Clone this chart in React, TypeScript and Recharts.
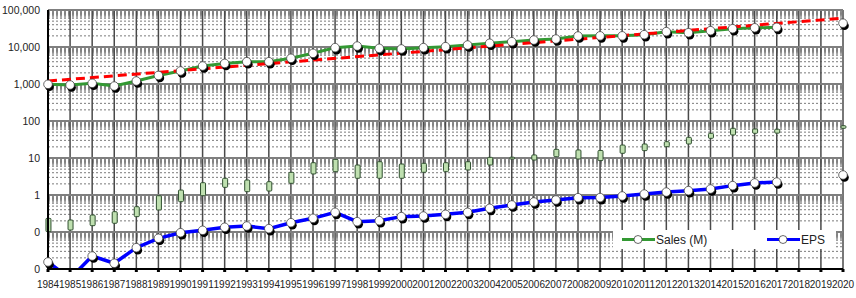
import {
  ComposedChart,
  Line,
  Bar,
  XAxis,
  YAxis,
  CartesianGrid,
  Legend,
} from 'recharts';

const years = [
  1984, 1985, 1986, 1987, 1988, 1989, 1990, 1991, 1992, 1993, 1994, 1995, 1996,
  1997, 1998, 1999, 2000, 2001, 2002, 2003, 2004, 2005, 2006, 2007, 2008, 2009,
  2010, 2011, 2012, 2013, 2014, 2015, 2016, 2017, 2018, 2019, 2020,
];

// Sales (M), 1984-2017
const sales = [
  980, 940, 1045, 880, 1205, 1700, 2250, 3060, 3600, 4000, 4000, 4950, 6750,
  9600, 10600, 9200, 8850, 9600, 10200, 11300, 12600, 13900, 15400, 16400,
  19800, 20000, 20000, 21500, 26000, 24300, 27600, 31200, 33000, 34000,
];

// EPS, 1984-2017
const eps = [
  0.0155, 0.0055, 0.0224, 0.0143, 0.0377, 0.0676, 0.0957, 0.111, 0.134, 0.145,
  0.123, 0.178, 0.234, 0.34, 0.19, 0.202, 0.26, 0.27, 0.3, 0.34, 0.436, 0.537,
  0.647, 0.733, 0.845, 0.85, 0.94, 1.06, 1.2, 1.31, 1.45, 1.79, 2.11, 2.24,
];

// yearly price range, 1984-2020 (no bars for 2018, 2019)
const priceLow = [
  0.102, 0.113, 0.148, 0.172, 0.26, 0.393, 0.66, 0.957, 1.61, 1.23, 1.28, 2.07,
  3.7, 4.27, 2.83, 2.83, 2.83, 4.11, 4.27, 4.74, 6.47, 9.4, 8.8, 10.8, 9.4, 8.5,
  13.4, 15.8, 20.2, 23.9, 34, 41.9, 46.5, 47, null, null, 63.5,
];
const priceHigh = [
  0.234, 0.211, 0.288, 0.354, 0.483, 0.957, 1.36, 2.15, 2.83, 2.54, 2.29, 4.11,
  7.46, 9.2, 6.47, 7.94, 6.88, 7.19, 7.46, 7.94, 10.4, 10.5, 12.1, 17.2, 16.5,
  16, 22.4, 23.9, 27.6, 36.2, 46.5, 63.5, 60.8, 60, null, null, 74.6,
];

// trend line end points
const trendYears = [1984, 2020];
const trendValues = [1200, 60000];

// 2020 estimates
const estimateYear = 2020;
const salesEstimate = 44000;
const epsEstimate = 3.47;

const yTicks = [0.01, 0.1, 1, 10, 100, 1000, 10000, 100000];
// log minor gridlines: sparse 2-5, packed 6-9.5 (reads as a grey band under each decade)
const minorSteps = [2, 3, 4, 5, 6, 6.5, 7, 7.5, 8, 8.5, 9, 9.5];

const minorValues: number[] = [];
yTicks.slice(0, -1).forEach((d) => minorSteps.forEach((m) => minorValues.push(d * m)));

const data = years.map((year, i) => {
  const t = trendYears.indexOf(year);
  return {
    year,
    sales: sales[i] ?? null,
    eps: eps[i] ?? null,
    price: priceLow[i] != null ? [priceLow[i], priceHigh[i]] : null,
    trend: t >= 0 ? trendValues[t] : null,
    salesEst: year === estimateYear ? salesEstimate : null,
    epsEst: year === estimateYear ? epsEstimate : null,
  };
});

const font = '"Liberation Sans", Arial, sans-serif';

const ShadowDot = (props: any) => {
  const { cx, cy, index } = props;
  if (cx == null || cy == null || !isFinite(cy)) return null;
  return (
    <g key={`d-${index}`}>
      <circle cx={cx + 1.5} cy={cy + 2.5} r={4.3} fill="#000" />
      <circle cx={cx} cy={cy} r={4.3} fill="#fff" stroke="#444" strokeWidth={0.8} />
    </g>
  );
};

const LegendBox = () => (
  <div style={{ width: '100%', height: '100%', background: '#fff', position: 'relative', fontFamily: font, fontSize: 12, color: '#222' }}>
    <svg width={223} height={19} style={{ position: 'absolute', left: 0, top: 0 }}>
      <line x1={9} x2={42} y1={9.5} y2={9.5} stroke="#339933" strokeWidth={3} />
      <circle cx={25} cy={9.5} r={4} fill="#fff" stroke="#444" strokeWidth={0.8} />
      <text x={43} y={14} fontSize={12} fontFamily={font} fill="#222">Sales (M)</text>
      <line x1={154} x2={187} y1={9.5} y2={9.5} stroke="#0000ff" strokeWidth={3} />
      <circle cx={170} cy={9.5} r={4} fill="#fff" stroke="#444" strokeWidth={0.8} />
      <text x={188} y={14} fontSize={12} fontFamily={font} fill="#222">EPS</text>
    </svg>
  </div>
);

export default function App() {
  return (
    <div style={{ position: 'absolute', left: 0, top: 0, background: '#fff' }}>
      <ComposedChart
        width={856}
        height={298}
        data={data}
        margin={{ top: 10, right: 13, left: 0, bottom: 0 }}
      >
        <CartesianGrid
          horizontalValues={minorValues}
          vertical={false}
          stroke="#7a7a7a"
          strokeDasharray="2 2"
          strokeWidth={1}
        />
        <CartesianGrid horizontal={false} stroke="#4a4a4a" strokeWidth={1.5} />
        <CartesianGrid vertical={false} stroke="#7f7f7f" strokeWidth={2} />
        <XAxis
          dataKey="year"
          type="number"
          domain={[1984, 2020]}
          ticks={years}
          interval={0}
          height={29}
          tickSize={3}
          tickMargin={9}
          axisLine={{ stroke: '#000', strokeWidth: 2 }}
          tickLine={{ stroke: '#000', strokeWidth: 3 }}
          tick={{ fill: '#222', fontSize: 10, fontFamily: font }}
        />
        <YAxis
          scale="log"
          type="number"
          domain={[0.01, 100000]}
          allowDataOverflow
          ticks={yTicks}
          interval={0}
          width={48}
          tickSize={0}
          tickMargin={8}
          tickLine={false}
          axisLine={{ stroke: '#000', strokeWidth: 2 }}
          tick={{ fill: '#222', fontSize: 10.5, fontFamily: font }}
          tickFormatter={(v: number) => (v < 1 ? '0' : v.toLocaleString('en-US'))}
        />
        <Legend
          layout="vertical"
          align="center"
          verticalAlign="middle"
          wrapperStyle={{ position: 'absolute', left: 613, top: 230, width: 223, height: 19 }}
          content={() => <LegendBox />}
        />
        <Bar
          dataKey="price"
          barSize={5}
          fill="#bfe0b0"
          stroke="#2f4f2f"
          strokeWidth={1}
          radius={1}
          isAnimationActive={false}
          legendType="none"
        />
        <Line
          dataKey="sales"
          name="Sales (M)"
          stroke="#339933"
          strokeWidth={3}
          dot={<ShadowDot />}
          isAnimationActive={false}
        />
        <Line
          dataKey="eps"
          name="EPS"
          stroke="#0000ff"
          strokeWidth={3.5}
          dot={<ShadowDot />}
          isAnimationActive={false}
        />
        <Line
          dataKey="trend"
          stroke="#ff0000"
          strokeWidth={3}
          strokeDasharray="9 5"
          dot={false}
          connectNulls
          isAnimationActive={false}
          legendType="none"
        />
        <Line
          dataKey="salesEst"
          stroke="none"
          dot={<ShadowDot />}
          isAnimationActive={false}
          legendType="none"
        />
        <Line
          dataKey="epsEst"
          stroke="none"
          dot={<ShadowDot />}
          isAnimationActive={false}
          legendType="none"
        />
      </ComposedChart>
    </div>
  );
}
